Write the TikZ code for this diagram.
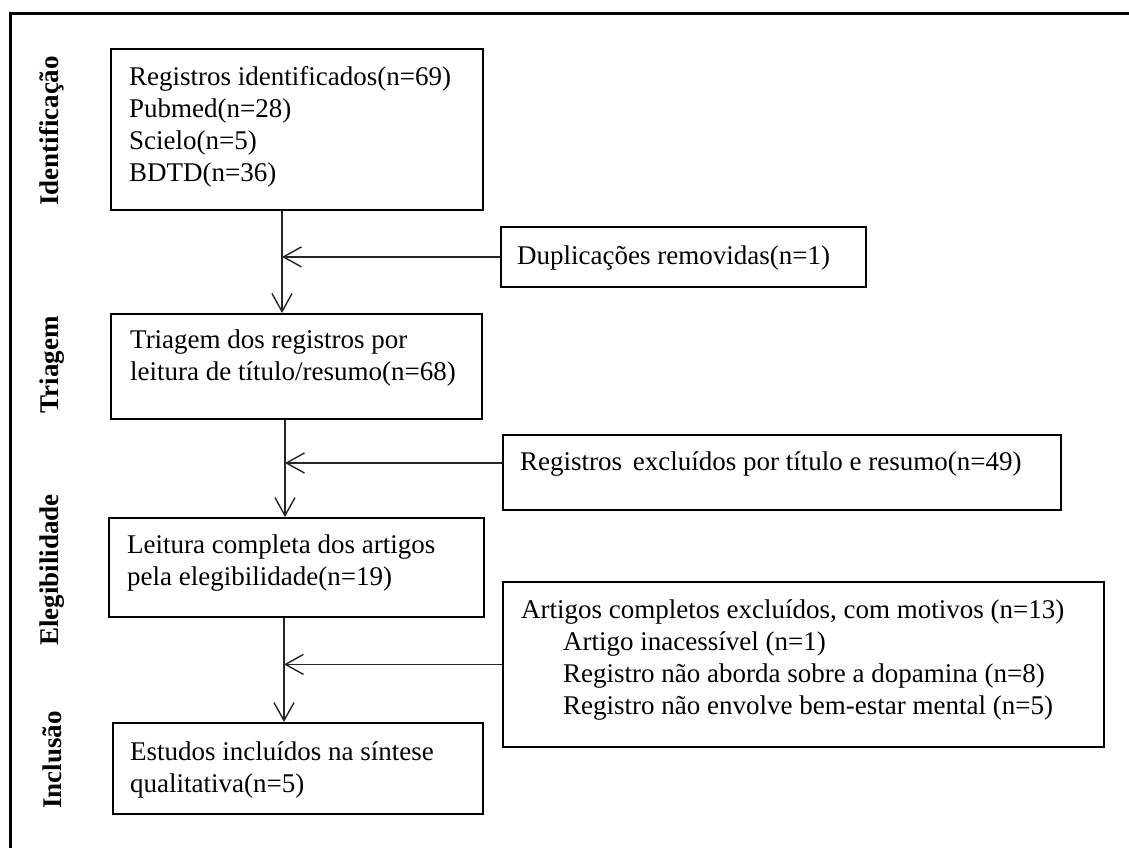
\documentclass[tikz,border=0pt]{standalone}
\usepackage{fontspec}
\setmainfont{Liberation Serif}
\usetikzlibrary{arrows.meta,calc}
\begin{document}
\begin{tikzpicture}[x=1bp,y=-1bp,
  box/.style={draw=black, line width=1.8bp, inner sep=0pt, anchor=north west},
  txt/.style={inner sep=0pt, anchor=base west, font=\fontsize{27bp}{32bp}\selectfont},
  lbl/.style={inner sep=0pt, rotate=90, font=\fontsize{27bp}{32bp}\selectfont\bfseries},
  arr/.style={draw=black!85, line width=1.4bp, -{Straight Barb[length=18bp,width=20bp,line width=1.4bp]}},
  frame/.style={draw=black, line width=3bp}]
\useasboundingbox (0,0) rectangle (1129,848);
\draw[frame] (10,860) -- (10,13) -- (1140,13);

% phase labels
\node[lbl] (l1) at (52,131) {Identificação};
\node[lbl] (l2) at (52,365) {Triagem};
\node[lbl] (l3) at (52,570) {Elegibilidade};
\node[lbl] (l4) at (52,760) {Inclusão};

% main boxes
\node[box, minimum width=372bp, minimum height=161bp] (b1) at (110,48) {};
\node[box, minimum width=371bp, minimum height=105bp] (b2) at (110,313) {};
\node[box, minimum width=375bp, minimum height=99bp] (b3) at (108,517) {};
\node[box, minimum width=370bp, minimum height=91bp] (b4) at (112,722) {};

% side boxes
\node[box, minimum width=365bp, minimum height=60bp] (dup) at (500,226) {};
\node[box, minimum width=558bp, minimum height=75bp] (exc) at (502,434) {};
\node[box, minimum width=601bp, minimum height=165bp] (art) at (502,581) {};

% texts
\node[txt] (t1) at (129,85) {\begin{tabular}[t]{@{}l@{}}Registros identificados(n=69)\\Pubmed(n=28)\\Scielo(n=5)\\BDTD(n=36)\end{tabular}};
\node[txt] (t2) at (130,348) {\begin{tabular}[t]{@{}l@{}}Triagem dos registros por\\leitura de título/resumo(n=68)\end{tabular}};
\node[txt] (t3) at (127,553) {\begin{tabular}[t]{@{}l@{}}Leitura completa dos artigos\\pela elegibilidade(n=19)\end{tabular}};
\node[txt] (t4) at (130,760) {\begin{tabular}[t]{@{}l@{}}Estudos incluídos na síntese\\qualitativa(n=5)\end{tabular}};
\node[txt] (td) at (517,264) {Duplicações removidas(n=1)};
\node[txt] (te) at (520,470) {Registros\hspace{4bp} excluídos por título e resumo(n=49)};
\node[txt] (ta) at (521,618) {\begin{tabular}[t]{@{}l@{}}Artigos completos excluídos, com motivos (n=13)\\\hspace*{42bp}Artigo inacessível (n=1)\\\hspace*{42bp}Registro não aborda sobre a dopamina (n=8)\\\hspace*{42bp}Registro não envolve bem-estar mental (n=5)\end{tabular}};

% connector columns
\coordinate (v1) at (282,0);
\coordinate (v2) at (285,0);
\coordinate (v3) at (284,0);
\coordinate (ej) at ($(exc.north west)+(0,29)$);

% vertical arrows
\draw[arr] (v1 |- b1.south) -- (v1 |- b2.north);
\draw[arr] (v2 |- b2.south) -- (v2 |- b3.north);
\draw[arr] (v3 |- b3.south) -- (v3 |- b4.north);

% horizontal arrows
\draw[arr] (dup.west) -- (dup.west -| v1);
\draw[arr] (ej) -- (ej -| v2);
\draw[arr] (art.west) -- (art.west -| v3);
\end{tikzpicture}
\end{document}
